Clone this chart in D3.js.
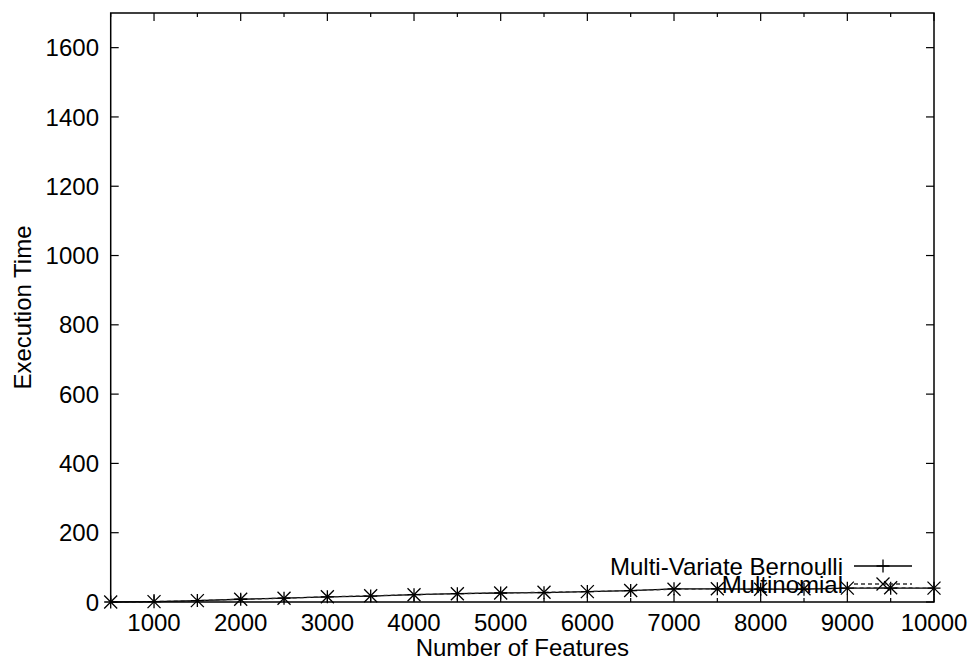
<!DOCTYPE html>
<html><head><meta charset="utf-8">
<script src="https://cdn.jsdelivr.net/npm/d3@7"></script>
<style>body{margin:0;background:#fff}svg{display:block}text{font-family:"Liberation Sans",Arial,sans-serif;fill:#000}</style>
</head><body><svg id="c" width="974" height="664"></svg>
<script>
const features = [500,1000,1500,2000,2500,3000,3500,4000,4500,5000,5500,6000,6500,7000,7500,8000,8500,9000,9500,10000];
const bernoulli = [0,1,4,8,11,15,17,21,24,26,27,30,33,38,38,37,37,40,40,40];
const multinomial = [0,1,4,8,11,15,18,21,24,26,28,30,33,37,38,37,38,40,41,40];
const seriesNames = ["Multi-Variate Bernoulli","Multinomial"];
const xTickLabels = [1000,2000,3000,4000,5000,6000,7000,8000,9000,10000];
const xMinorTicks = [500,1500,2500,3500,4500,5500,6500,7500,8500,9500];
const yTickLabels = [0,200,400,600,800,1000,1200,1400,1600];
const xTitle = "Number of Features", yTitle = "Execution Time";

const svg = d3.select("#c");
const L=110.7, R=934, T=13, B=602;
const x = d3.scaleLinear().domain([500,10000]).range([L,R]);
const y = d3.scaleLinear().domain([0,1700]).range([B,T]);
const fs = 24;

// ticks
const tk = svg.append("g").attr("stroke","#000").attr("stroke-width",1.2);
xTickLabels.forEach(v=>{
  tk.append("line").attr("x1",x(v)).attr("x2",x(v)).attr("y1",B).attr("y2",B-8);
  tk.append("line").attr("x1",x(v)).attr("x2",x(v)).attr("y1",T).attr("y2",T+8);
});
xMinorTicks.forEach(v=>{
  tk.append("line").attr("x1",x(v)).attr("x2",x(v)).attr("y1",B).attr("y2",B-4);
  tk.append("line").attr("x1",x(v)).attr("x2",x(v)).attr("y1",T).attr("y2",T+4);
});
yTickLabels.forEach(v=>{
  tk.append("line").attr("y1",y(v)).attr("y2",y(v)).attr("x1",L).attr("x2",L+8);
  tk.append("line").attr("y1",y(v)).attr("y2",y(v)).attr("x1",R).attr("x2",R-8);
});

// tick labels
svg.append("g").selectAll("text").data(xTickLabels).join("text")
  .attr("x",d=>x(d)).attr("y",631).attr("text-anchor","middle").attr("font-size",fs).text(d=>d);
svg.append("g").selectAll("text").data(yTickLabels).join("text")
  .attr("x",99).attr("y",d=>y(d)).attr("dy","0.36em").attr("text-anchor","end").attr("font-size",fs).text(d=>d);

// titles
svg.append("text").attr("x",(L+R)/2).attr("y",656).attr("text-anchor","middle").attr("font-size",fs).text(xTitle);
svg.append("text").attr("transform",`translate(31,${(T+B)/2}) rotate(-90)`).attr("text-anchor","middle").attr("font-size",fs).text(yTitle);

// lines
const line = d3.line().x((d,i)=>x(features[i])).y(d=>y(d));
svg.append("path").datum(bernoulli).attr("d",line).attr("fill","none").attr("stroke","#000").attr("stroke-width",1.3);
svg.append("path").datum(multinomial).attr("d",line).attr("fill","none").attr("stroke","#333").attr("stroke-width",1.3).attr("stroke-dasharray","4,3");

const s=6.5;
function plus(g,cx,cy){g.append("path").attr("d",`M${cx-s},${cy}H${cx+s}M${cx},${cy-s}V${cy+s}`).attr("stroke","#000").attr("stroke-width",1.3);}
function cross(g,cx,cy){g.append("path").attr("d",`M${cx-s},${cy-s}L${cx+s},${cy+s}M${cx-s},${cy+s}L${cx+s},${cy-s}`).attr("stroke","#000").attr("stroke-width",1.3);}
const gm = svg.append("g");
bernoulli.forEach((v,i)=>plus(gm,x(features[i]),y(v)));
multinomial.forEach((v,i)=>cross(gm,x(features[i]),y(v)));

// legend
const leg = svg.append("g");
const ly=[566,584];
seriesNames.forEach((n,i)=>{
  leg.append("text").attr("x",843).attr("y",ly[i]).attr("dy","0.36em").attr("text-anchor","end").attr("font-size",fs).text(n);
  leg.append("line").attr("x1",854).attr("x2",912).attr("y1",ly[i]).attr("y2",ly[i])
    .attr("stroke",i?"#333":"#000").attr("stroke-width",1.3).attr("stroke-dasharray",i?"4,3":null);
  if(i) cross(leg,883,ly[i]); else plus(leg,883,ly[i]);
});

// frame
svg.append("rect").attr("x",L).attr("y",T).attr("width",R-L).attr("height",B-T).attr("fill","none").attr("stroke","#000").attr("stroke-width",1.5);
</script></body></html>
